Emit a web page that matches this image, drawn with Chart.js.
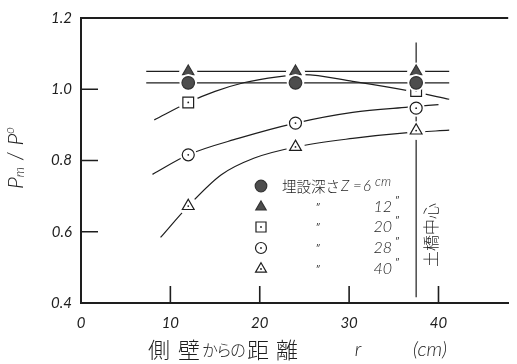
<!DOCTYPE html>
<html>
<head>
<meta charset="utf-8">
<script src="https://cdn.jsdelivr.net/npm/chart.js@4/dist/chart.umd.min.js"></script>
<style>
  html, body { margin: 0; padding: 0; background: #fff; }
  canvas { display: block; }
</style>
</head>
<body>
<canvas id="c" width="517" height="364"></canvas>
<script>
// Measured points: distance from the side wall (cm) and Pm/Po per burial depth
const distanceCm = [12, 24, 37.5];
const ratioZ6  = [1.018, 1.018, 1.018];
const ratioZ12 = [1.05, 1.05, 1.05];
const ratioZ20 = [0.963, 1.04, 0.995];
const ratioZ28 = [0.816, 0.905, 0.947];
const ratioZ40 = [0.672, 0.838, 0.884];

// Hand-fitted trend curves drawn through the measurements
const trendZ20X = [8.2, 12, 15, 18.3, 22, 24.9, 30.4, 37, 41.2];
const trendZ20Y = [0.914, 0.963, 0.994, 1.019, 1.035, 1.041, 1.022, 0.994, 0.972];
const trendZ28X = [8.0, 12, 17.6, 24, 30.4, 36.6, 40.0];
const trendZ28Y = [0.761, 0.816, 0.862, 0.905, 0.935, 0.950, 0.957];
const trendZ40X = [8.9, 12, 15.7, 19.4, 24, 30.4, 36.6, 41.2];
const trendZ40Y = [0.584, 0.672, 0.760, 0.807, 0.838, 0.862, 0.878, 0.885];
const levelSpanX = [7.3, 41.2];

// Centre line of the embankment
const centreX = 37.5;
const centreSpanY = [0.416, 1.131];

// Axis ticks and legend entries
const xTicks = [0, 10, 20, 30, 40];
const yTicks = [0.4, 0.6, 0.8, 1.0, 1.2];
const legendDepths = ['6', '12', '20', '28', '40'];

const INK = '#1e1e1e';
const GREY = '#4d4d4d';
const CJK = '"Noto Sans CJK JP", "Noto Sans", sans-serif';
const NUM = 'Lato, "Liberation Sans", sans-serif';

const pts = (xs, ys) => xs.map((x, i) => ({ x, y: ys[i] }));

const lineSet = (data, order) => ({
  data, showLine: true, pointRadius: 0, borderColor: INK, borderWidth: 1.2,
  cubicInterpolationMode: 'monotone', order, fill: false
});

const markerSet = (ys, style, radius, filled, order) => ({
  data: pts(distanceCm, ys), showLine: false, order,
  pointStyle: style, pointRadius: radius, pointBorderWidth: 1.2,
  pointBackgroundColor: filled ? GREY : '#fff', pointBorderColor: filled ? '#333' : INK,
  halo: radius + 2.5, dot: !filled
});

// Legend marker specs (style, radius, filled) in legend order
const legendMarks = [
  ['circle', 6.3, true], ['triangle', 6.5, true], ['rect', 7.6, false],
  ['circle', 6, false], ['triangle', 6.8, false]
];

// White gap around each marker so lines stop short of it
const haloPlugin = {
  id: 'halo',
  beforeDatasetDraw(chart, args) {
    const ds = chart.data.datasets[args.index];
    if (!ds.halo) return;
    const ctx = chart.ctx;
    ctx.save();
    ctx.fillStyle = '#fff';
    args.meta.data.forEach(el => {
      ctx.beginPath();
      ctx.arc(el.x, el.y, ds.halo, 0, Math.PI * 2);
      ctx.fill();
    });
    ctx.restore();
  },
  afterDatasetDraw(chart, args) {
    const ds = chart.data.datasets[args.index];
    if (!ds.dot) return;
    const ctx = chart.ctx;
    ctx.save();
    ctx.fillStyle = INK;
    args.meta.data.forEach(el => {
      ctx.beginPath();
      ctx.arc(el.x, el.y, 0.9, 0, Math.PI * 2);
      ctx.fill();
    });
    ctx.restore();
  }
};

// Top frame line and inward tick marks
const framePlugin = {
  id: 'frame',
  beforeDatasetsDraw(chart) {
    const { ctx, chartArea: a, scales: { x, y } } = chart;
    ctx.save();
    ctx.strokeStyle = INK;
    ctx.lineWidth = 2;
    ctx.beginPath();
    ctx.moveTo(a.left - 1, a.top);
    ctx.lineTo(a.right, a.top);
    ctx.stroke();
    ctx.lineWidth = 1.6;
    ctx.beginPath();
    yTicks.filter(v => v > 0.4 && v < 1.2).forEach(v => {
      const py = y.getPixelForValue(v);
      ctx.moveTo(a.left, py);
      ctx.lineTo(a.left + 17, py);
    });
    xTicks.filter(v => v > 0).forEach(v => {
      const px = x.getPixelForValue(v);
      ctx.moveTo(px, a.bottom);
      ctx.lineTo(px, a.bottom - 17);
    });
    ctx.stroke();
    ctx.restore();
  }
};

function drawMark(ctx, style, r, filled, px, py) {
  ctx.save();
  ctx.lineWidth = 1.2;
  ctx.strokeStyle = filled ? '#333' : INK;
  ctx.fillStyle = filled ? GREY : '#fff';
  Chart.helpers.drawPoint(ctx, { pointStyle: style, radius: r, borderWidth: 1.2, rotation: 0 }, px, py);
  if (!filled) {
    ctx.fillStyle = INK;
    ctx.beginPath();
    ctx.arc(px, py, 0.9, 0, Math.PI * 2);
    ctx.fill();
  }
  ctx.restore();
}

// Titles, legend and the centre-line label
const textPlugin = {
  id: 'texts',
  afterDraw(chart) {
    const { ctx } = chart;
    ctx.save();
    ctx.fillStyle = INK;
    ctx.textBaseline = 'middle';

    // Legend
    const lx = 261;
    const rows = [186, 207, 227, 248, 269];
    legendMarks.forEach((m, i) => drawMark(ctx, m[0], m[1] - 0.5, m[2], lx, rows[i]));
    ctx.textAlign = 'left';
    ctx.font = `300 14.5px ${CJK}`;
    ctx.fillText('埋設深さ', 282, rows[0]);
    ctx.font = `italic 300 15px ${NUM}`;
    ctx.fillText('Z', 341, rows[0]);
    ctx.fillText('=', 353, rows[0]);
    ctx.fillText(legendDepths[0], 363, rows[0]);
    ctx.font = `italic 300 13px ${NUM}`;
    ctx.fillText('cm', 375, rows[0] - 4);
    for (let i = 1; i < legendDepths.length; i++) {
      ctx.textAlign = 'center';
      ctx.font = `9px ${NUM}`;
      ctx.fillText('\u2033', 318, rows[i] + 1);
      ctx.textAlign = 'right';
      ctx.font = `italic 300 16px ${NUM}`;
      ctx.fillText(legendDepths[i], 392, rows[i]);
      ctx.textAlign = 'left';
      ctx.font = `9px ${NUM}`;
      ctx.fillText('\u2033', 395, rows[i] - 6);
    }

    // Vertical label beside the centre line
    ctx.save();
    ctx.translate(431, 235);
    ctx.rotate(-Math.PI / 2);
    ctx.textAlign = 'center';
    ctx.font = `300 16px ${CJK}`;
    ctx.fillText('土橋中心', 0, 0);
    ctx.restore();

    // Y axis title: Pm / Po
    ctx.save();
    ctx.translate(16, 158);
    ctx.rotate(-Math.PI / 2);
    const parts = [
      ['P', `italic 300 22px ${NUM}`, 0], ['m', `italic 300 13px ${NUM}`, 4],
      [' / ', `300 22px ${NUM}`, 0],
      ['P', `italic 300 22px ${NUM}`, 0], ['o', `italic 300 13px ${NUM}`, -6]
    ];
    let total = 0;
    parts.forEach(p => { ctx.font = p[1]; total += ctx.measureText(p[0]).width; });
    let cx = -total / 2;
    ctx.textAlign = 'left';
    parts.forEach(p => {
      ctx.font = p[1];
      ctx.fillText(p[0], cx, p[2]);
      cx += ctx.measureText(p[0]).width;
    });
    ctx.restore();

    // X axis title
    const ty = 350;
    ctx.textAlign = 'center';
    const chars = [
      ['側', 159, 22], ['壁', 189, 22], ['か', 210, 16], ['ら', 224, 16],
      ['の', 238, 16], ['距', 258, 22], ['離', 287, 22]
    ];
    chars.forEach(c => { ctx.font = `300 ${c[2]}px ${CJK}`; ctx.fillText(c[0], c[1], ty); });
    ctx.font = `italic 300 20px ${NUM}`;
    ctx.fillText('r', 358, ty);
    ctx.fillText('(cm)', 430, ty);
    ctx.restore();
  }
};

new Chart(document.getElementById('c'), {
  type: 'scatter',
  data: {
    datasets: [
      lineSet([{ x: centreX, y: centreSpanY[0] }, { x: centreX, y: centreSpanY[1] }], 6),
      lineSet(levelSpanX.map(x => ({ x, y: ratioZ12[0] })), 5),
      lineSet(levelSpanX.map(x => ({ x, y: ratioZ6[0] })), 5),
      lineSet(pts(trendZ20X, trendZ20Y), 5),
      lineSet(pts(trendZ28X, trendZ28Y), 5),
      lineSet(pts(trendZ40X, trendZ40Y), 5),
      markerSet(ratioZ40, 'triangle', 6.8, false, 3),
      markerSet(ratioZ28, 'circle', 6, false, 3),
      markerSet(ratioZ20, 'rect', 7.6, false, 3),
      markerSet(ratioZ12, 'triangle', 6.5, true, 2),
      markerSet(ratioZ6, 'circle', 6.3, true, 1)
    ]
  },
  options: {
    responsive: false,
    animation: false,
    devicePixelRatio: 1,
    layout: { padding: { top: 12, right: 0, left: 0, bottom: 0 } },
    plugins: { legend: { display: false }, tooltip: { enabled: false } },
    scales: {
      x: {
        type: 'linear', min: 0, max: 47.8,
        grid: { display: false, drawTicks: false },
        border: { display: true, color: INK, width: 2 },
        afterFit: s => { s.height = 61; },
        ticks: {
          stepSize: 10, includeBounds: false, padding: 11, color: INK,
          font: { family: NUM, size: 15, style: 'italic', weight: 400 },
          callback: v => (xTicks.includes(v) ? String(v) : '')
        }
      },
      y: {
        type: 'linear', min: 0.4, max: 1.2,
        grid: { display: false, drawTicks: false },
        border: { display: true, color: INK, width: 2 },
        afterFit: s => { s.width = 81; },
        ticks: {
          stepSize: 0.2, padding: 9, color: INK,
          font: { family: NUM, size: 15, style: 'italic', weight: 400 },
          callback: v => {
            const t = yTicks.find(k => Math.abs(k - v) < 1e-6);
            return t === undefined ? '' : t.toFixed(1);
          }
        }
      }
    }
  },
  plugins: [haloPlugin, framePlugin, textPlugin]
});
</script>
</body>
</html>
